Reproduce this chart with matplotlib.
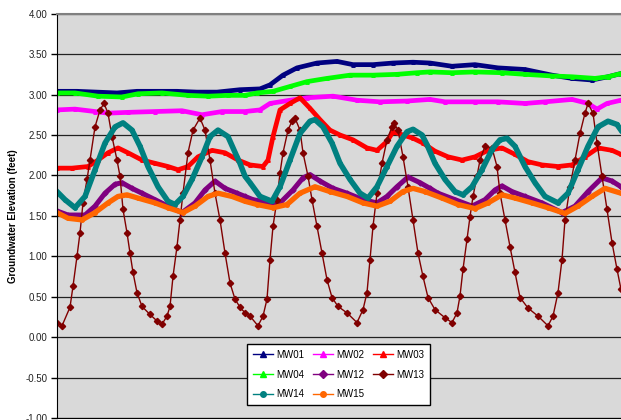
import matplotlib
matplotlib.use('Agg')
import matplotlib.pyplot as plt
from matplotlib.ticker import FormatStrFormatter, MultipleLocator

plt.rcParams['font.family'] = ['Liberation Sans', 'DejaVu Sans']
plt.rcParams['axes.unicode_minus'] = False

# x = day index along the record (left edge of chart = 0)
mw01_x = [0, 20, 40, 60, 80, 100, 120, 140, 160, 183, 203, 213, 226, 240, 260, 280, 296, 316, 336, 356, 373, 395, 418, 441, 468, 495, 515, 535, 551, 564]
mw01_y = [3.04, 3.04, 3.03, 3.02, 3.04, 3.04, 3.04, 3.03, 3.03, 3.06, 3.07, 3.12, 3.24, 3.33, 3.39, 3.41, 3.37, 3.37, 3.39, 3.40, 3.39, 3.35, 3.37, 3.33, 3.31, 3.24, 3.20, 3.18, 3.22, 3.26]

mw02_x = [0, 18, 38, 51, 71, 98, 125, 145, 165, 188, 203, 213, 233, 250, 276, 300, 323, 350, 373, 388, 418, 441, 468, 488, 515, 531, 540, 550, 564]
mw02_y = [2.81, 2.82, 2.79, 2.77, 2.78, 2.79, 2.80, 2.75, 2.79, 2.79, 2.81, 2.89, 2.93, 2.96, 2.98, 2.93, 2.91, 2.92, 2.94, 2.91, 2.91, 2.91, 2.89, 2.91, 2.94, 2.89, 2.82, 2.89, 2.93]

mw03_x = [0, 15, 31, 41, 51, 61, 71, 85, 98, 111, 121, 131, 141, 155, 168, 181, 193, 206, 211, 216, 223, 233, 243, 253, 263, 273, 283, 296, 310, 320, 330, 336, 346, 356, 366, 378, 391, 405, 418, 431, 445, 458, 471, 485, 501, 515, 528, 541, 555, 564]
mw03_y = [2.09, 2.09, 2.11, 2.19, 2.28, 2.34, 2.28, 2.19, 2.15, 2.11, 2.07, 2.11, 2.23, 2.31, 2.28, 2.19, 2.13, 2.11, 2.19, 2.48, 2.81, 2.89, 2.96, 2.83, 2.69, 2.56, 2.50, 2.44, 2.34, 2.31, 2.42, 2.54, 2.50, 2.46, 2.40, 2.30, 2.23, 2.19, 2.23, 2.31, 2.34, 2.26, 2.17, 2.13, 2.11, 2.13, 2.23, 2.34, 2.31, 2.26]

mw04_x = [0, 18, 41, 65, 81, 105, 131, 151, 171, 188, 200, 216, 233, 250, 270, 293, 316, 340, 360, 373, 395, 418, 445, 468, 495, 515, 538, 551, 564]
mw04_y = [3.02, 3.02, 2.98, 2.97, 3.01, 3.02, 2.99, 2.98, 2.99, 2.99, 3.02, 3.04, 3.10, 3.16, 3.20, 3.24, 3.24, 3.25, 3.27, 3.28, 3.27, 3.28, 3.27, 3.25, 3.23, 3.22, 3.20, 3.22, 3.26]

mw12_x = [0, 11, 28, 38, 48, 58, 65, 75, 85, 98, 111, 125, 138, 148, 158, 168, 180, 188, 196, 213, 223, 236, 246, 253, 263, 276, 290, 306, 320, 330, 340, 351, 363, 373, 381, 398, 415, 428, 438, 445, 455, 468, 485, 505, 518, 531, 545, 555, 564]
mw12_y = [1.56, 1.51, 1.51, 1.62, 1.78, 1.89, 1.91, 1.84, 1.78, 1.70, 1.62, 1.54, 1.66, 1.82, 1.93, 1.84, 1.78, 1.74, 1.70, 1.66, 1.66, 1.82, 1.97, 2.01, 1.93, 1.84, 1.78, 1.70, 1.66, 1.74, 1.86, 1.98, 1.91, 1.84, 1.78, 1.70, 1.62, 1.70, 1.82, 1.87, 1.80, 1.74, 1.66, 1.54, 1.62, 1.80, 1.97, 1.93, 1.86]

mw13_x = [0, 5, 13, 16, 20, 23, 26, 30, 33, 38, 43, 47, 51, 55, 60, 63, 66, 70, 73, 76, 80, 85, 93, 100, 105, 110, 113, 116, 120, 123, 126, 131, 136, 143, 148, 153, 158, 163, 168, 173, 178, 183, 188, 193, 201, 206, 210, 213, 216, 220, 223, 226, 231, 235, 238, 243, 246, 251, 255, 260, 265, 270, 275, 281, 290, 300, 306, 310, 313, 316, 320, 325, 330, 335, 337, 341, 346, 351, 356, 361, 366, 371, 378, 388, 395, 400, 403, 406, 410, 413, 416, 420, 423, 428, 435, 440, 443, 448, 453, 458, 463, 471, 481, 491, 496, 501, 505, 508, 513, 518, 523, 528, 531, 536, 540, 545, 550, 555, 560, 564]
mw13_y = [0.18, 0.14, 0.37, 0.63, 1.00, 1.29, 1.66, 1.95, 2.19, 2.60, 2.81, 2.89, 2.77, 2.48, 2.19, 1.99, 1.58, 1.29, 1.04, 0.80, 0.55, 0.38, 0.28, 0.20, 0.16, 0.26, 0.38, 0.75, 1.12, 1.45, 1.78, 2.28, 2.56, 2.71, 2.56, 2.19, 1.78, 1.45, 1.04, 0.67, 0.47, 0.37, 0.30, 0.26, 0.14, 0.26, 0.47, 0.96, 1.37, 1.70, 2.03, 2.28, 2.56, 2.67, 2.71, 2.56, 2.28, 1.99, 1.70, 1.37, 1.04, 0.71, 0.49, 0.38, 0.30, 0.18, 0.34, 0.55, 0.96, 1.37, 1.78, 2.15, 2.44, 2.60, 2.65, 2.56, 2.23, 1.86, 1.45, 1.04, 0.75, 0.49, 0.34, 0.24, 0.18, 0.30, 0.51, 0.84, 1.21, 1.49, 1.74, 1.99, 2.19, 2.36, 2.34, 2.11, 1.78, 1.45, 1.12, 0.80, 0.49, 0.36, 0.26, 0.14, 0.26, 0.55, 0.96, 1.45, 1.86, 2.19, 2.52, 2.77, 2.89, 2.77, 2.40, 1.99, 1.58, 1.17, 0.84, 0.59]

mw14_x = [0, 8, 18, 28, 38, 48, 58, 66, 75, 83, 91, 101, 111, 118, 126, 135, 145, 153, 161, 171, 180, 183, 188, 193, 203, 215, 223, 233, 243, 253, 258, 266, 275, 283, 293, 303, 311, 320, 330, 340, 350, 356, 365, 370, 378, 388, 398, 406, 415, 425, 435, 443, 450, 458, 468, 478, 488, 501, 511, 521, 531, 541, 551, 560, 564]
mw14_y = [1.80, 1.70, 1.60, 1.74, 2.07, 2.40, 2.60, 2.65, 2.56, 2.36, 2.11, 1.86, 1.68, 1.64, 1.74, 1.95, 2.23, 2.48, 2.56, 2.48, 2.23, 2.15, 1.99, 1.91, 1.74, 1.68, 1.86, 2.19, 2.52, 2.67, 2.69, 2.60, 2.40, 2.15, 1.95, 1.78, 1.72, 1.86, 2.11, 2.36, 2.54, 2.57, 2.50, 2.38, 2.15, 1.95, 1.80, 1.76, 1.86, 2.07, 2.32, 2.44, 2.46, 2.36, 2.11, 1.91, 1.74, 1.66, 1.78, 2.07, 2.36, 2.60, 2.67, 2.63, 2.56]

mw15_x = [0, 11, 25, 38, 51, 61, 70, 81, 98, 111, 126, 138, 151, 161, 175, 188, 200, 216, 230, 243, 258, 273, 290, 306, 320, 333, 346, 356, 368, 385, 401, 418, 431, 445, 458, 475, 491, 508, 521, 535, 548, 564]
mw15_y = [1.54, 1.47, 1.45, 1.54, 1.66, 1.74, 1.76, 1.72, 1.66, 1.60, 1.54, 1.62, 1.74, 1.78, 1.74, 1.68, 1.64, 1.60, 1.64, 1.78, 1.86, 1.80, 1.74, 1.66, 1.62, 1.68, 1.80, 1.84, 1.80, 1.72, 1.64, 1.59, 1.66, 1.76, 1.72, 1.66, 1.60, 1.53, 1.62, 1.74, 1.84, 1.78]

fig = plt.figure(figsize=(6.21, 4.20), dpi=100)
# axes runs past the right and bottom edge, like the cropped original
ax = fig.add_axes([57/621, 2/420, 583/621, 404.3/420])
ax.set_facecolor('#d9d9d9')

thick = dict(linewidth=3.4, markersize=2.5)
l1, = ax.plot(mw01_x, mw01_y, color='#000080', marker='^', label='MW01', **thick)
l2, = ax.plot(mw02_x, mw02_y, color='#ff00ff', marker='^', label='MW02', **thick)
l3, = ax.plot(mw03_x, mw03_y, color='#ff0000', marker='^', label='MW03', **thick)
l4, = ax.plot(mw04_x, mw04_y, color='#00ff00', marker='^', label='MW04', **thick)
l5, = ax.plot(mw12_x, mw12_y, color='#800080', marker='D', label='MW12', linewidth=3.6, markersize=2.5)
l6, = ax.plot(mw13_x, mw13_y, color='#800000', marker='D', label='MW13', linewidth=1.0, markersize=3.2)
l7, = ax.plot(mw14_x, mw14_y, color='#008080', marker='o', label='MW14', linewidth=4.0, markersize=2.5)
l8, = ax.plot(mw15_x, mw15_y, color='#ff6600', marker='o', label='MW15', linewidth=3.8, markersize=2.5)

ax.set_xlim(0, 583)
ax.set_ylim(-1.0, 4.0)
ax.yaxis.set_major_locator(MultipleLocator(0.5))
ax.yaxis.set_major_formatter(FormatStrFormatter('%.2f'))
ax.grid(True, axis='y', color='#222222', linewidth=0.9)
ax.set_axisbelow(True)
ax.set_xticks([])
ax.tick_params(axis='y', direction='out', length=4, width=1, labelsize=7, colors='black', pad=3)
for lab in ax.get_yticklabels():
    lab.set_color('#222222')

ax.spines['left'].set_color('black')
ax.spines['bottom'].set_color('black')
ax.spines['top'].set_color('#808080')
ax.spines['top'].set_linewidth(1.5)
ax.spines['right'].set_visible(False)

ax.set_ylabel('Groundwater Elevation (feet)', fontsize=7, fontweight='bold', labelpad=5)

# column-wise fill order so rows read MW01 MW02 MW03 / MW04 MW12 MW13 / MW14 MW15
handles = [l1, l4, l7, l2, l5, l8, l3, l6]
leg = ax.legend(handles, [h.get_label() for h in handles], ncol=3, loc='lower left',
                bbox_to_anchor=(0.326, 0.032), fontsize=7, frameon=True, fancybox=False,
                edgecolor='black', framealpha=1, borderaxespad=0, handlelength=2.1,
                handletextpad=0.3, columnspacing=0.9, labelspacing=1.0, borderpad=0.6)
leg.get_frame().set_linewidth(1.0)
for h in leg.legend_handles:
    h.set_linewidth(1.0)
    h.set_markersize(4)

fig.savefig('out.png', dpi=100)
